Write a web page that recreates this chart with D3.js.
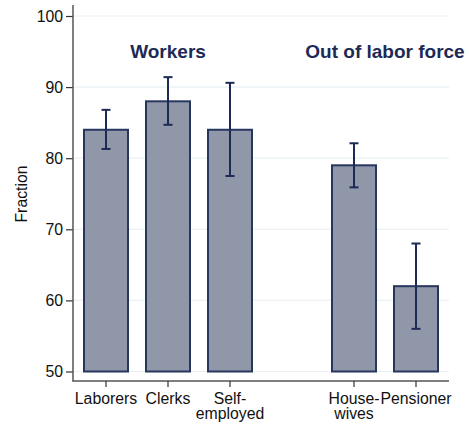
<!DOCTYPE html>
<html><head><meta charset="utf-8">
<script src="https://cdn.jsdelivr.net/npm/d3@7"></script>
<style>body{margin:0;background:#fff}svg{display:block}text{font-family:"Liberation Sans",Arial,Helvetica,sans-serif}</style>
</head><body>
<svg id="c" width="469" height="424"></svg>
<script>
const categories = ["Laborers", "Clerks", "Self-employed", "House-wives", "Pensioner"];
const labelLines = [["Laborers"], ["Clerks"], ["Self-", "employed"], ["House-", "wives"], ["Pensioner"]];
const slots = [0, 1, 2, 4, 5];
const values = [84, 88, 84, 79, 62];
const lower = [81.3, 84.7, 77.5, 75.9, 56.0];
const upper = [86.8, 91.4, 90.6, 82.1, 68.0];
const yTicks = [50, 60, 70, 80, 90, 100];
const groups = [{name: "Workers", slots: [0, 1, 2]}, {name: "Out of labor force", slots: [4, 5]}];

const svg = d3.select("#c");
const navy = "#1c2a55";
const fs = 15.8;
const x = d3.scaleLinear().domain([-0.5, 5.5]).range([75, 447]);
const y = d3.scaleLinear().domain([50, 100]).range([371.5, 16]);
const bw = 44;

// grid
svg.append("g").selectAll("line").data(yTicks).join("line")
  .attr("x1", 73).attr("x2", 449).attr("y1", d => y(d)).attr("y2", d => y(d))
  .attr("stroke", "#eaf0f3").attr("stroke-width", 1.2);

// bars
svg.append("g").selectAll("rect").data(values).join("rect")
  .attr("x", (d, i) => x(slots[i]) - bw / 2)
  .attr("width", bw)
  .attr("y", d => y(d))
  .attr("height", d => y(50) - y(d))
  .attr("fill", "#9097a8").attr("stroke", "#27365f").attr("stroke-width", 2);

// error bars
const eb = svg.append("g").attr("stroke", navy).attr("stroke-width", 2);
values.forEach((v, i) => {
  const cx = x(slots[i]);
  eb.append("line").attr("x1", cx).attr("x2", cx).attr("y1", y(upper[i])).attr("y2", y(lower[i]));
  eb.append("line").attr("x1", cx - 4.5).attr("x2", cx + 4.5).attr("y1", y(upper[i])).attr("y2", y(upper[i]));
  eb.append("line").attr("x1", cx - 4.5).attr("x2", cx + 4.5).attr("y1", y(lower[i])).attr("y2", y(lower[i]));
});

// y axis
const ya = svg.append("g").attr("transform", "translate(73,0)")
  .call(d3.axisLeft(y).tickValues(yTicks).tickSize(7).tickPadding(3));
ya.select(".domain").remove();
ya.selectAll("line").attr("stroke", "#333").attr("stroke-width", 1.2);
ya.selectAll("text").attr("font-size", fs).attr("fill", "#111").attr("font-family", "Liberation Sans, Arial, sans-serif");
svg.append("line").attr("x1", 73).attr("x2", 73).attr("y1", 5).attr("y2", 381.5).attr("stroke", "#555").attr("stroke-width", 1.5);

// x axis
svg.append("line").attr("x1", 72.5).attr("x2", 449).attr("y1", 381).attr("y2", 381).attr("stroke", "#555").attr("stroke-width", 1.5);
const xl = svg.append("g");
categories.forEach((c, i) => {
  const cx = x(slots[i]);
  xl.append("line").attr("x1", cx).attr("x2", cx).attr("y1", 381).attr("y2", 387).attr("stroke", "#333").attr("stroke-width", 1.2);
  labelLines[i].forEach((ln, k) => xl.append("text").attr("x", cx).attr("y", 404 + k * 14.5)
    .attr("text-anchor", "middle").attr("font-size", fs).attr("fill", "#111").text(ln));
});

// y title
svg.append("text").attr("transform", "translate(27,194) rotate(-90)").attr("text-anchor", "middle")
  .attr("font-size", fs).attr("fill", "#111").text("Fraction");

// group labels
groups.forEach(g => {
  const cx = d3.mean(g.slots, s => x(s));
  svg.append("text").attr("x", cx).attr("y", 58).attr("text-anchor", "middle")
    .attr("font-size", 19).attr("font-weight", "bold").attr("fill", navy).text(g.name);
});
</script>
</body></html>
